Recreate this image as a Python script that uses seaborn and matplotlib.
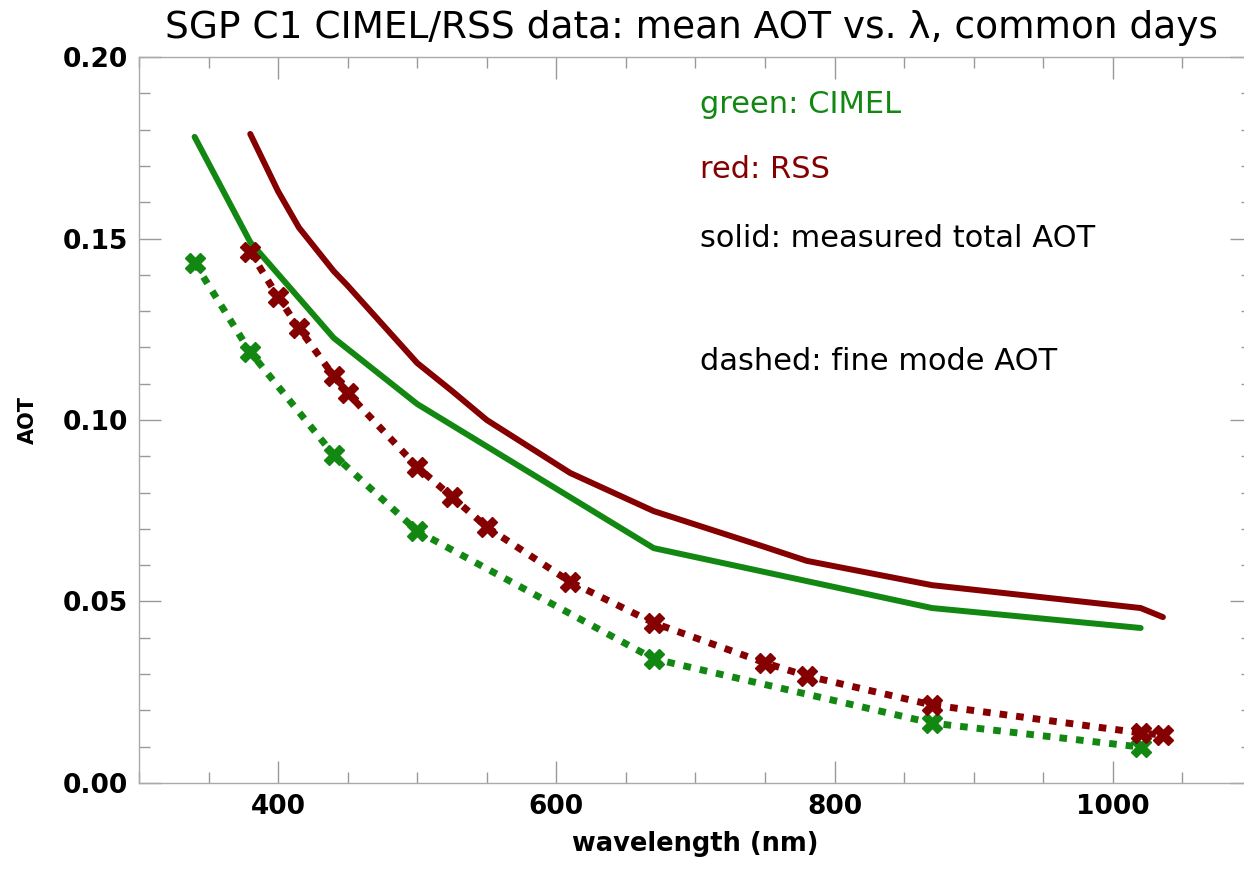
import numpy as np
import pandas as pd
import matplotlib
matplotlib.use('Agg')
import matplotlib.pyplot as plt
import seaborn as sns

# dados (AOT medio por comprimento de onda)
cimel_nm = [340, 380, 440, 500, 670, 870, 1020]
cimel_total = [0.178, 0.149, 0.1226, 0.1044, 0.0647, 0.0482, 0.0427]
cimel_fino = [0.1433, 0.1187, 0.0904, 0.0694, 0.0342, 0.0165, 0.0099]

rss_nm = [380, 400, 415, 440, 450, 500, 525, 550, 610, 670, 750, 780, 870, 1020, 1036]
rss_total = [0.1788, 0.163, 0.153, 0.141, 0.137, 0.1157, 0.108, 0.100, 0.0854, 0.0749,
             0.0650, 0.0612, 0.0545, 0.0482, 0.0457]
rss_fino = [0.1463, 0.1339, 0.1253, 0.1121, 0.1074, 0.0871, 0.0788, 0.0705, 0.0554, 0.0441,
            0.0331, 0.0295, 0.0215, 0.0138, 0.0132]

verde = '#128812'
vermelho = '#850000'

df_cimel = pd.DataFrame({'nm': cimel_nm, 'total': cimel_total, 'fino': cimel_fino})
df_rss = pd.DataFrame({'nm': rss_nm, 'total': rss_total, 'fino': rss_fino})

sns.set_style('ticks')
plt.rcParams['font.family'] = ['DejaVu Sans']

fig = plt.figure(figsize=(12.44, 8.73), dpi=100)
ax = fig.add_axes([0.1117, 0.1031, 0.8947, 0.8316])

sns.lineplot(data=df_rss, x='nm', y='total', color=vermelho, lw=4.3, ax=ax)
sns.lineplot(data=df_cimel, x='nm', y='total', color=verde, lw=4.3, ax=ax)
sns.lineplot(data=df_cimel, x='nm', y='fino', color=verde, lw=5, linestyle=(0, (1.1, 1.3)),
             marker='X', markersize=14, mew=1, mec=verde, ax=ax)
sns.lineplot(data=df_rss, x='nm', y='fino', color=vermelho, lw=5, linestyle=(0, (1.1, 1.3)),
             marker='X', markersize=14, mew=1, mec=vermelho, ax=ax)

ax.set_xlim(300, 1100)
ax.set_ylim(0, 0.20)
ax.set_xticks([400, 600, 800, 1000])
ax.set_xticks(np.arange(300, 1101, 50), minor=True)
ax.set_yticks([0.0, 0.05, 0.10, 0.15, 0.20])
ax.set_yticks(np.arange(0, 0.201, 0.01), minor=True)
ax.set_yticklabels(['0.00', '0.05', '0.10', '0.15', '0.20'])
ax.tick_params(which='both', direction='in', top=True, right=True, color='#999999', width=1,
               labelcolor='black')
ax.tick_params(which='major', length=16, labelsize=19, pad=8)
ax.tick_params(which='minor', length=8)
for lab in ax.get_xticklabels() + ax.get_yticklabels():
    lab.set_fontweight('bold')
for s in ax.spines.values():
    s.set_color('#aaaaaa')
    s.set_linewidth(1)

ax.set_xlabel('wavelength (nm)', fontsize=18.5, fontweight='bold', labelpad=8, color='black')
ax.set_ylabel('AOT', fontsize=15, fontweight='bold', labelpad=18, color='black')
fig.text(0.556, 0.947, 'SGP C1 CIMEL/RSS data: mean AOT vs. λ, common days',
         fontsize=27, ha='center', va='bottom', color='black')

ax.text(703, 0.187, 'green: CIMEL', color=verde, fontsize=22, va='center')
ax.text(703, 0.169, 'red: RSS', color=vermelho, fontsize=22, va='center')
ax.text(703, 0.150, 'solid: measured total AOT', color='black', fontsize=22, va='center')
ax.text(703, 0.1160, 'dashed: fine mode AOT', color='black', fontsize=22, va='center')

plt.savefig('out.png', dpi=100)
